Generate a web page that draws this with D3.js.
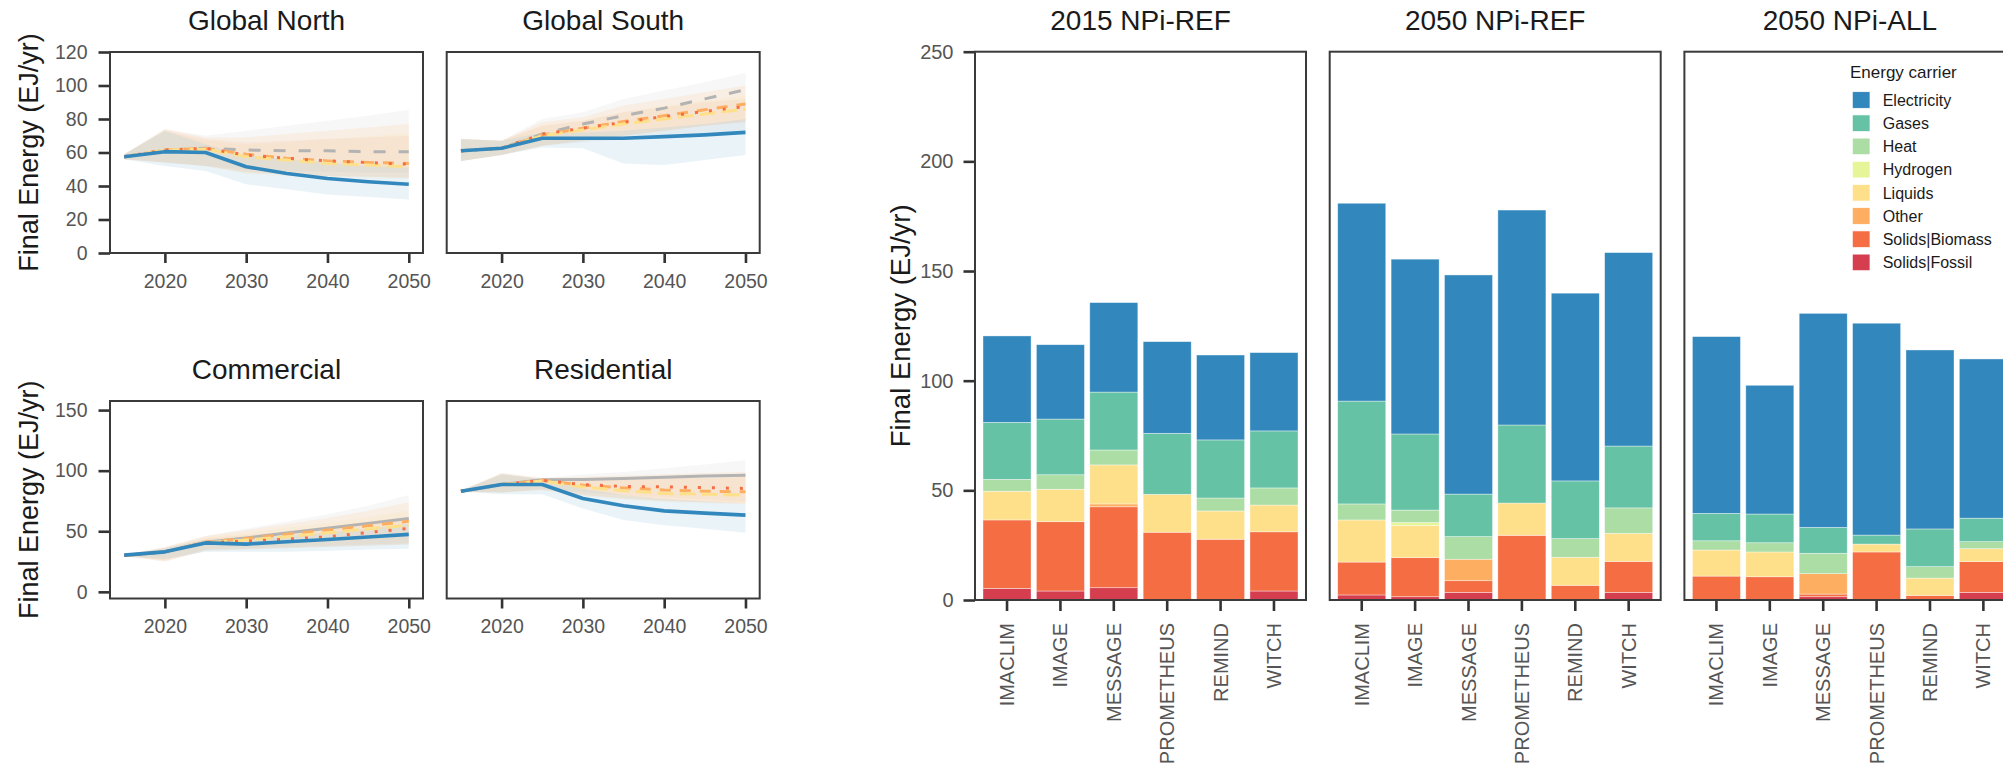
<!DOCTYPE html>
<html><head><meta charset="utf-8">
<script src="https://cdn.jsdelivr.net/npm/d3@7"></script>
<style>
html,body{margin:0;padding:0;background:#fff;overflow:hidden}
text{font-family:"Liberation Sans",Arial,Helvetica,sans-serif}
</style>
</head><body>
<svg id="c" width="2003" height="766"></svg>
<script>
// ---------------- DATA ----------------
const years = [2015, 2020, 2025, 2030, 2035, 2040, 2045, 2050];
const scenarios = ["NPi-REF", "Scenario A", "Scenario B", "Scenario C", "NPi-ALL"];
const lineTitles = ["Global North", "Global South", "Commercial", "Residential"];
const xYearTicks = [2020, 2030, 2040, 2050];
const yTicksTop = [0, 20, 40, 60, 80, 100, 120];
const yTicksBottom = [0, 50, 100, 150];

// Global North: mean / lo / hi, one array per scenario (order of `scenarios`)
const gnMean = [
  [57.5, 61.5, 62.5, 61.5, 61, 61, 60.5, 60.5],
  [57.5, 61.5, 62.5, 59, 56.5, 55, 54, 53.5],
  [57.5, 61.5, 62, 57.5, 55.5, 53.5, 52.5, 51.5],
  [57.5, 61.5, 62.5, 58.5, 56.5, 55, 54, 53],
  [57.5, 60.5, 60, 51.5, 47.5, 44.5, 42.5, 41]
];
const gnLo = [
  [56, 54, 52, 50, 49, 48.5, 48, 48],
  [56, 54, 52, 48, 47, 46, 45.5, 45],
  [56, 54, 52, 47, 46, 45, 44.5, 44],
  [56, 54, 52, 48, 47, 46, 45.5, 45],
  [56, 52, 49, 41, 38, 35, 33.5, 32]
];
const gnHi = [
  [59, 74, 70, 73, 76, 79, 82, 85.5],
  [59, 74, 69, 69, 71, 73, 75, 77],
  [59, 73, 67, 65, 66, 68, 69.5, 71.5],
  [59, 73, 68, 66, 67, 68, 69, 70],
  [59, 73, 65, 58, 56, 54, 52, 51]
];

// Global South
const gsMean = [
  [61, 62.5, 71, 77, 82, 86.5, 92, 97.5],
  [61, 62.5, 70.5, 74.5, 78.5, 82, 85.5, 89],
  [61, 62.5, 70, 73.5, 77, 80, 83, 86],
  [61, 62.5, 71, 74.5, 78, 81.5, 84.5, 87.5],
  [61, 62.5, 68.5, 68.5, 68.5, 69.5, 70.5, 72]
];
const gsLo = [
  [55, 58.5, 64, 66, 68, 70, 71, 72],
  [55, 58.5, 64, 67, 70, 73, 76, 78],
  [55, 58.5, 64, 67, 70, 73, 76, 79],
  [55, 58.5, 64, 67, 70, 73, 76, 78],
  [55, 58.5, 63, 62.5, 53.5, 52.5, 55.5, 58.5]
];
const gsHi = [
  [68, 67, 80, 84, 92, 97, 102, 107.5],
  [68, 67, 78, 81, 88, 92, 96, 100],
  [68, 67, 76, 79, 84, 88, 91, 94],
  [68, 67, 76, 79, 84, 87, 90, 92],
  [68, 67, 72, 72, 73, 75, 77, 80]
];

// Commercial
const coMean = [
  [30, 33, 41, 44.5, 48.5, 52.5, 56.5, 60.5],
  [30, 33, 41, 44, 47.5, 51, 54.5, 58.3],
  [30, 33, 40.5, 42.7, 45.5, 48.7, 52, 55],
  [30, 33, 40.5, 41.8, 43.5, 45.4, 49, 52.3],
  [30.3, 33, 40.4, 39.4, 41.3, 43.2, 45.3, 47.4]
];
const coLo = [
  [29.5, 25, 34, 35, 36, 37, 38, 39],
  [29.5, 25, 34, 35, 36, 37, 38, 39],
  [29.5, 26, 35, 36, 37, 38, 39, 40],
  [29.5, 26, 35, 36, 37, 38, 39, 40],
  [29.5, 27, 33, 33, 33, 34, 35, 35.5]
];
const coHi = [
  [30.5, 37, 46, 52, 58, 64, 71, 80],
  [30.5, 37, 46, 51, 56, 61, 67, 74],
  [30.5, 36, 45, 49, 53, 57, 62, 67],
  [30.5, 36, 44, 47, 50, 54, 58, 62],
  [30.5, 36, 43, 44, 46, 49, 52, 56]
];

// Residential
const reMean = [
  [83, 88.5, 92.5, 92.7, 93.5, 94.5, 95.5, 96.3],
  [83, 88.5, 92, 88, 85.8, 84, 83, 82.5],
  [83, 88.5, 91.5, 86.5, 83.5, 81.2, 80.5, 79.8],
  [83, 88.5, 92, 88.5, 87, 86.6, 86, 85.3],
  [83, 88.6, 88.6, 77, 71, 66.8, 65, 63.3]
];
const reLo = [
  [82.5, 82, 85, 82, 80, 78, 76, 74],
  [82.5, 82, 84, 80, 77, 75, 74, 73],
  [82.5, 82, 84, 79, 76, 74, 73, 72],
  [82.5, 82, 84, 80, 77, 75, 74, 73],
  [82.5, 80.6, 80.6, 68.8, 59.2, 55, 52, 48.7]
];
const reHi = [
  [83.5, 98, 94, 97, 99, 102, 105, 108.7],
  [83.5, 98, 94, 95, 96, 97, 98, 99],
  [83.5, 97, 93, 93, 93, 94, 94, 95],
  [83.5, 97, 93, 93, 93, 94, 94, 95],
  [83.5, 97, 93, 85, 80, 77, 75, 73]
];

// Bars
const models = ["IMACLIM", "IMAGE", "MESSAGE", "PROMETHEUS", "REMIND", "WITCH"];
const barPanels = ["2015 NPi-REF", "2050 NPi-REF", "2050 NPi-ALL"];
const carriers = ["Electricity", "Gases", "Heat", "Hydrogen", "Liquids", "Other", "Solids|Biomass", "Solids|Fossil"];
const yTicksBar = [0, 50, 100, 150, 200, 250];
// values per carrier (order of `carriers`), each lists the six models
const ref2015 = [
  [39.4, 33.9, 40.8, 41.8, 38.7, 35.7],
  [26.0, 25.4, 26.4, 27.8, 26.5, 26.0],
  [5.4, 6.6, 6.8, 0, 5.9, 7.8],
  [0, 0, 0, 0, 0, 0],
  [13.1, 14.8, 17.8, 17.3, 12.9, 12.2],
  [0, 0, 1.3, 0, 0, 0],
  [31.2, 31.6, 36.9, 30.9, 27.7, 27.0],
  [5.3, 4.1, 5.6, 0, 0, 4.1]
];
const ref2050 = [
  [90.2, 79.7, 99.9, 98.0, 85.6, 88.2],
  [46.9, 34.7, 19.4, 35.6, 26.3, 28.2],
  [7.3, 5.7, 10.3, 0, 8.5, 11.6],
  [0, 1.4, 0, 0, 0, 0],
  [19.2, 14.6, 0, 14.7, 12.8, 12.8],
  [0, 0, 9.8, 0, 0, 0],
  [15.0, 17.8, 5.3, 29.5, 6.7, 14.1],
  [2.3, 1.5, 3.5, 0, 0, 3.5]
];
const all2050 = [
  [80.6, 58.7, 97.6, 96.6, 81.6, 72.6],
  [12.5, 13.1, 11.8, 4.1, 17.2, 10.7],
  [4.2, 4.2, 9.3, 0, 5.2, 3.2],
  [0, 0, 0, 0, 0, 0],
  [11.9, 11.3, 0, 3.6, 7.9, 5.9],
  [0, 0, 9.3, 0, 0, 0],
  [10.9, 10.6, 1.2, 21.9, 2.1, 14.0],
  [0, 0, 1.5, 0, 0, 3.5]
];

// ---------------- STYLE ----------------
const carrierColors = ["#3288bd", "#66c2a5", "#abdda4", "#e6f598", "#fee08b", "#fdae61", "#f46d43", "#d53e4f"];
const scenColors = ["#b3b3b3", "#fdae61", "#fee08b", "#f46d43", "#3288bd"];
const ribbonColors = ["#cfcfcf", "#fdae61", "#fee08b", "#f46d43", "#9ecae1"];
const ribbonOpacity = [0.16, 0.13, 0.12, 0.06, 0.22];
const scenWidth = [3, 3, 3, 3, 3.6];
const dashTop = ["12,13", "11,9", "16,6", "3,11", null];
const dashBottom = [null, "11,9", "16,6", "3,11", null];
const tickCol = "#333", labCol = "#555";

const svg = d3.select("#c");

// ---------------- LINE PANELS ----------------
const lp = { w: 313, xs: [110, 446.7] };
const rows = [
  { y: 52, h: 201, dom: [0, 120], ticks: yTicksTop, dash: dashTop },
  { y: 401, h: 197.5, dom: [-5.5, 157.5], ticks: yTicksBottom, dash: dashBottom }
];
const lineData = [[gnMean, gnLo, gnHi], [gsMean, gsLo, gsHi], [coMean, coLo, coHi], [reMean, reLo, reHi]];

lineTitles.forEach((title, i) => {
  const row = rows[Math.floor(i / 2)], col = i % 2;
  const x0 = lp.xs[col], y0 = row.y;
  const g = svg.append("g").attr("transform", `translate(${x0},${y0})`);
  const x = d3.scaleLinear().domain([2013.25, 2051.75]).range([0, lp.w]);
  const y = d3.scaleLinear().domain(row.dom).range([row.h, 0]);
  const [mean, lo, hi] = lineData[i];

  const area = d3.area().x((d, k) => x(years[k])).y0(d => y(d[0])).y1(d => y(d[1]));
  const line = d3.line().x((d, k) => x(years[k])).y(d => y(d));

  scenarios.forEach((s, j) => {
    g.append("path").datum(lo[j].map((v, k) => [v, hi[j][k]]))
      .attr("d", area).attr("fill", ribbonColors[j]).attr("fill-opacity", ribbonOpacity[j]);
  });
  scenarios.forEach((s, j) => {
    g.append("path").datum(mean[j]).attr("d", line)
      .attr("fill", "none").attr("stroke", scenColors[j]).attr("stroke-width", scenWidth[j])
      .attr("stroke-dasharray", row.dash[j]).attr("stroke-linejoin", "round");
  });

  // axes
  const xa = g.append("g").attr("transform", `translate(0,${row.h})`)
    .call(d3.axisBottom(x).tickValues(xYearTicks).tickFormat(d3.format("d")).tickSize(10).tickPadding(11));
  xa.select(".domain").remove();
  xa.selectAll("line").attr("stroke", tickCol).attr("stroke-width", 2.6);
  xa.selectAll("text").attr("fill", labCol).attr("font-size", 19.5);

  if (col === 0) {
    const ya = g.append("g").call(d3.axisLeft(y).tickValues(row.ticks).tickSize(11.5).tickPadding(11));
    ya.select(".domain").remove();
    ya.selectAll("line").attr("stroke", tickCol).attr("stroke-width", 2.6);
    ya.selectAll("text").attr("fill", labCol).attr("font-size", 19.5);
    svg.append("text").attr("transform", `translate(38,${y0 + row.h / 2}) rotate(-90)`)
      .attr("text-anchor", "middle").attr("font-size", 27).attr("fill", "#1a1a1a")
      .text("Final Energy (EJ/yr)");
  }
  g.append("rect").attr("width", lp.w).attr("height", row.h)
    .attr("fill", "none").attr("stroke", "#3a3a3a").attr("stroke-width", 2);
  svg.append("text").attr("x", x0 + lp.w / 2).attr("y", y0 - 22)
    .attr("text-anchor", "middle").attr("font-size", 28).attr("fill", "#1a1a1a").text(title);
});

// ---------------- BAR PANELS ----------------
const bp = { xs: [975, 1329.7, 1684.4], y: 51.7, w: 331, h: 548.3 };
const barData = [ref2015, ref2050, all2050];
const yb = d3.scaleLinear().domain([0, 250]).range([bp.h, 0]);
const xb = d3.scaleBand().domain(models).range([0, bp.w]).paddingInner(0.1).paddingOuter(0.15);
const stackOrder = carriers.slice().reverse(); // bottom first

barPanels.forEach((title, p) => {
  const g = svg.append("g").attr("transform", `translate(${bp.xs[p]},${bp.y})`);
  const table = models.map((m, k) => {
    const o = { model: m };
    carriers.forEach((c, ci) => o[c] = barData[p][ci][k]);
    return o;
  });
  const series = d3.stack().keys(stackOrder)(table);
  series.forEach(s => {
    const ci = carriers.indexOf(s.key);
    g.append("g").selectAll("rect").data(s.filter(d => d[1] - d[0] > 0)).join("rect")
      .attr("x", d => xb(d.data.model)).attr("width", xb.bandwidth())
      .attr("y", d => yb(d[1])).attr("height", d => yb(d[0]) - yb(d[1]))
      .attr("fill", carrierColors[ci])
      .attr("stroke", "#ffffff").attr("stroke-width", 0.7).attr("stroke-opacity", 0.55);
  });
  // x ticks + rotated labels
  const xa = g.append("g").attr("transform", `translate(0,${bp.h})`);
  models.forEach(m => {
    const cx = xb(m) + xb.bandwidth() / 2;
    xa.append("line").attr("x1", cx).attr("x2", cx).attr("y1", 0).attr("y2", 11)
      .attr("stroke", tickCol).attr("stroke-width", 2.6);
    xa.append("text").attr("transform", `translate(${cx},23) rotate(-90)`)
      .attr("text-anchor", "end").attr("dy", "0.35em").attr("font-size", 20)
      .attr("fill", labCol).text(m);
  });
  if (p === 0) {
    const ya = g.append("g").call(d3.axisLeft(yb).tickValues(yTicksBar).tickSize(11.5).tickPadding(10));
    ya.select(".domain").remove();
    ya.selectAll("line").attr("stroke", tickCol).attr("stroke-width", 2.6);
    ya.selectAll("text").attr("fill", labCol).attr("font-size", 20);
    svg.append("text").attr("transform", `translate(910,${bp.y + bp.h / 2}) rotate(-90)`)
      .attr("text-anchor", "middle").attr("font-size", 27.5).attr("fill", "#1a1a1a")
      .text("Final Energy (EJ/yr)");
  }
  g.append("rect").attr("width", bp.w).attr("height", bp.h)
    .attr("fill", "none").attr("stroke", "#3a3a3a").attr("stroke-width", 2);
  svg.append("text").attr("x", bp.xs[p] + bp.w / 2).attr("y", 29.5)
    .attr("text-anchor", "middle").attr("font-size", 28).attr("fill", "#1a1a1a").text(title);
});

// ---------------- LEGEND ----------------
const lg = svg.append("g").attr("transform", "translate(1850,0)");
lg.append("text").attr("x", 0).attr("y", 78).attr("font-size", 17).attr("fill", "#1a1a1a").text("Energy carrier");
carriers.forEach((c, i) => {
  const yy = 91.7 + i * 23.2;
  lg.append("rect").attr("x", 2.3).attr("y", yy).attr("width", 17.7).attr("height", 16.6)
    .attr("fill", carrierColors[i]).attr("stroke", "#fff").attr("stroke-width", 0.7);
  lg.append("text").attr("x", 32.7).attr("y", yy + 8.3).attr("dy", "0.36em")
    .attr("font-size", 16).attr("fill", "#1a1a1a").text(c);
});
</script>
</body></html>
